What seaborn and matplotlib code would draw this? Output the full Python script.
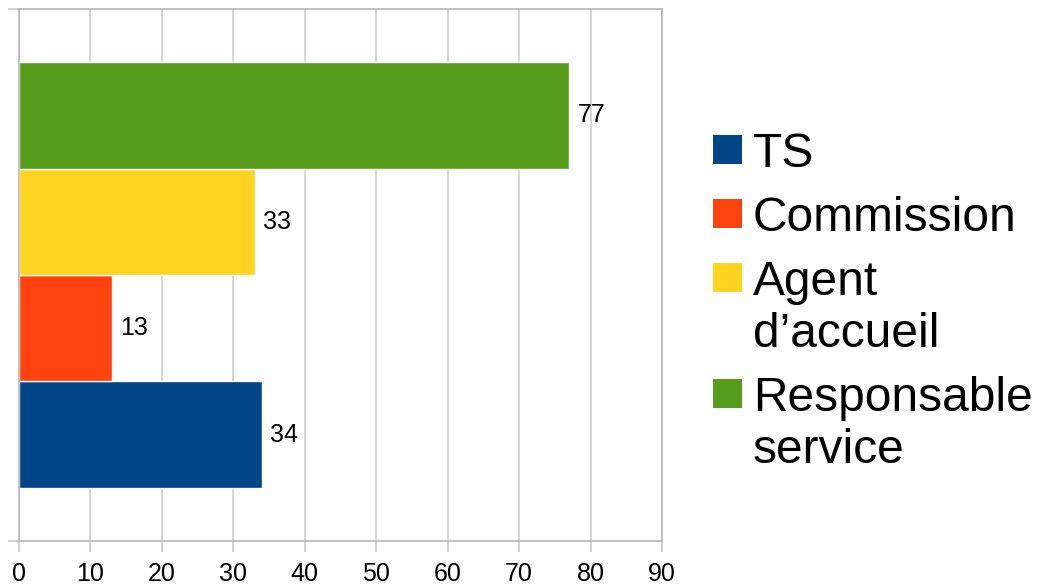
import pandas as pd
import matplotlib.pyplot as plt
import seaborn as sns

# Data
series = ["TS", "Commission", "Agent d’accueil", "Responsable service"]
legend_labels = ["TS", "Commission", "Agent\nd’accueil", "Responsable\nservice"]
values = [34, 13, 33, 77]
colors = ["#004586", "#ff420e", "#ffd320", "#579d1c"]

df = pd.DataFrame({
    "cat": ["Réponses"] * len(series),
    "series": series,
    "value": values
})

sns.set_style("white")
plt.rcParams["font.family"] = ["Liberation Sans", "DejaVu Sans"]
plt.rcParams["text.color"] = "black"
plt.rcParams["xtick.color"] = "black"

W, H = 1039, 587
fig = plt.figure(figsize=(W / 100, H / 100), dpi=100)
ax = fig.add_axes([19 / W, 46 / H, 643 / W, 532 / H])

sns.barplot(
    data=df,
    x="value",
    y="cat",
    hue="series",
    hue_order=series,
    palette=colors,
    width=0.8,
    saturation=1,
    orient="h",
    ax=ax,
    legend=False
)

# first series at the bottom
ax.set_ylim(-0.5, 0.5)
ax.set_xlim(0, 90)
ax.set_xticks(range(0, 91, 10))
ax.set_yticks([-0.5, 0.5])
ax.set_yticklabels([])
ax.set_xlabel("")
ax.set_ylabel("")

ax.grid(axis="x", color="#d0d0d0", linewidth=1.2)
ax.set_axisbelow(True)
for side in ["top", "right", "bottom", "left"]:
    ax.spines[side].set_color("#b8b8b8")
    ax.spines[side].set_linewidth(1.2)
ax.tick_params(axis="both", direction="out", length=8, width=1.2,
               color="#c8c8c8", labelcolor="black", labelsize=18, pad=7,
               bottom=True, left=True)

for container in ax.containers:
    ax.bar_label(container, padding=6, fontsize=18, color="black")

# Legend, square aligned with first line of each label
x_sq, sq = 713, 29
x_txt = 753
base = 167
for lab, col in zip(legend_labels, colors):
    fig.patches.append(plt.Rectangle(
        (x_sq / W, (H - base + 3) / H), sq / W, sq / H,
        transform=fig.transFigure, facecolor=col, edgecolor="none"))
    for line in lab.split("\n"):
        fig.text(x_txt / W, (H - base) / H, line, fontsize=34.5,
                 va="baseline", ha="left", color="black")
        base += 52
    base += 12

plt.savefig("out.png", dpi=100)
plt.close()
